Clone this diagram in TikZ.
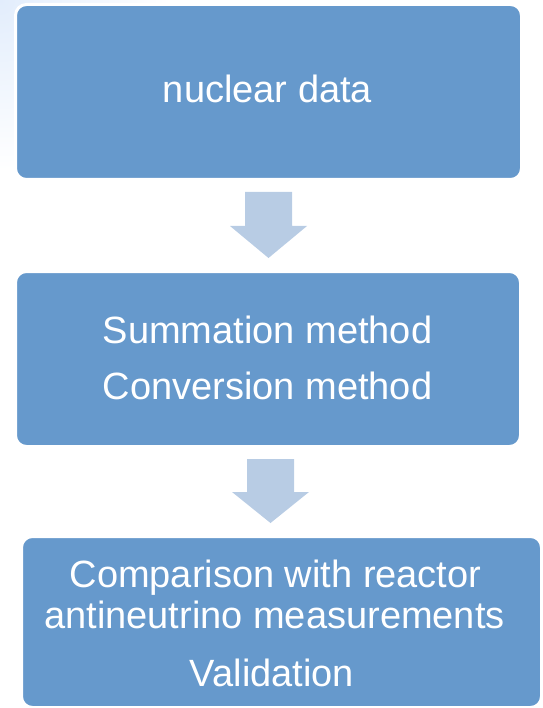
\documentclass[tikz,border=0pt]{standalone}
\usepackage{fontspec}
\setmainfont{Liberation Sans}
\definecolor{boxblue}{RGB}{102,153,204}
\definecolor{arrowblue}{RGB}{184,204,228}
\definecolor{glow}{RGB}{226,237,252}
\begin{document}
\begin{tikzpicture}[x=1pt,y=-1pt,
  box/.style={rectangle, fill=boxblue, draw=white, line width=3pt, rounded corners=11pt, inner sep=0pt},
  lbl/.style={text=white, font=\fontsize{38}{44}\selectfont, anchor=base, inner sep=0pt},
  blockarrow/.style={fill=arrowblue}]
\useasboundingbox (0,0) rectangle (542,708);
\begin{scope}
  \clip (0,0) rectangle (542,708);
  \shade[inner color=glow, outer color=white] (0,0) circle[radius=170];
\end{scope}
% boxes
\node[box, minimum width=506pt, minimum height=175pt] (b1) at (268.5,92) {};
\node[box, minimum width=505pt, minimum height=175pt] (b2) at (268,359) {};
\node[box, minimum width=520pt, minimum height=171pt] (b3) at (281.5,622) {};
% texts
\node[lbl] (t1) at (267.5,103) {nuclear data};
\node[lbl] (t2a) at (267.5,343) {Summation method};
\node[lbl] (t2b) at (267.5,399) {Conversion method};
\node[lbl] (t3a) at (275.5,587) {Comparison with reactor};
\node[lbl] (t3b) at (274.5,628) {antineutrino measurements};
\node[lbl] (t3c) at (272,686) {Validation};
% block arrows
\coordinate (a1) at (268.5,192);
\coordinate (a2) at (270.5,459);
\fill[blockarrow] (a1) ++(-23.5,0) -- ++(47,0) -- ++(0,34) -- ++(15,0) -- ++(-38.5,32) -- ++(-38.5,-32) -- ++(15,0) -- cycle;
\fill[blockarrow] (a2) ++(-23.5,0) -- ++(47,0) -- ++(0,33) -- ++(15,0) -- ++(-38.5,31) -- ++(-38.5,-31) -- ++(15,0) -- cycle;
\end{tikzpicture}
\end{document}
